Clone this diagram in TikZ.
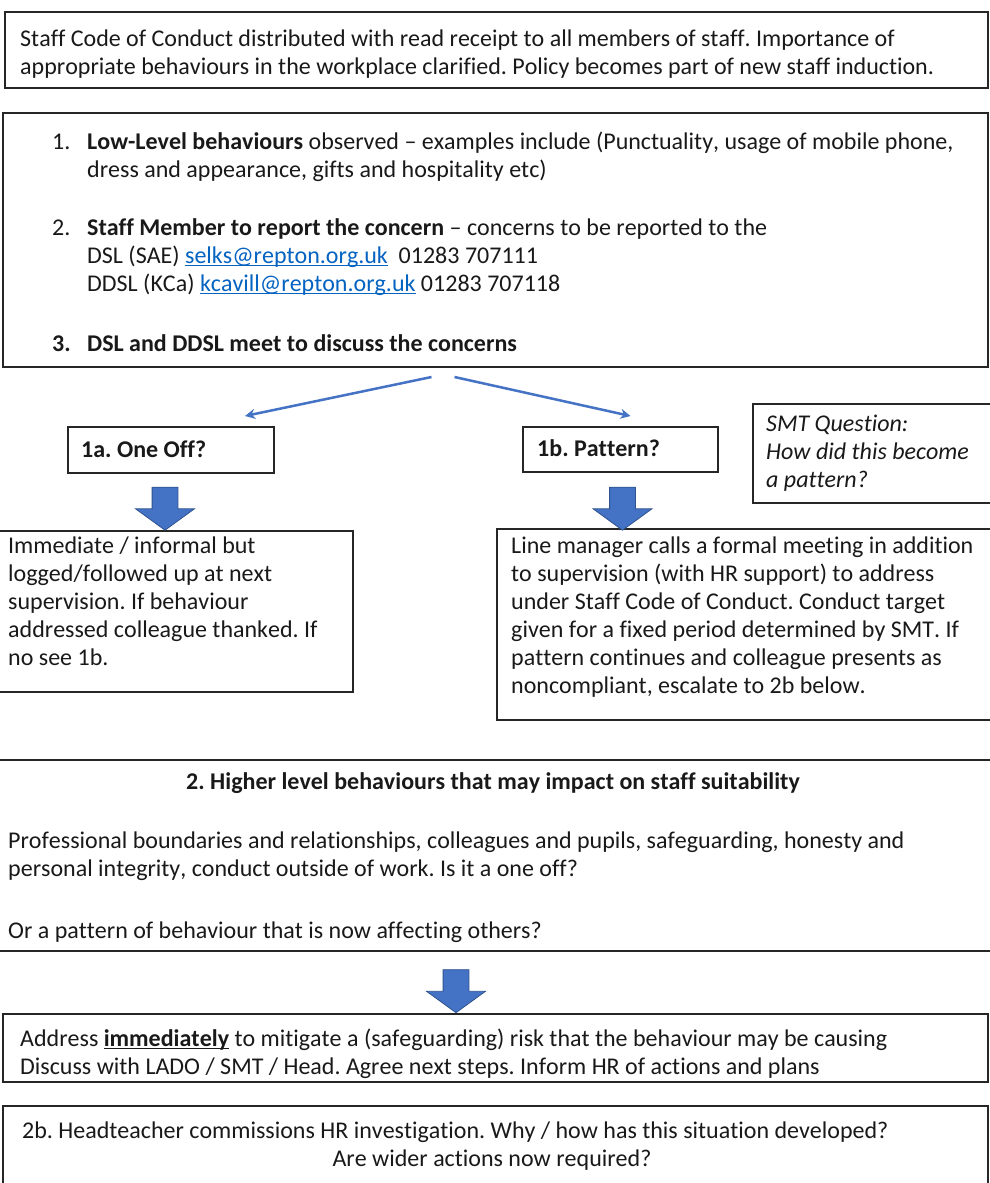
\documentclass[tikz,border=0pt]{standalone}
\usepackage{fontspec}
\setmainfont{Carlito}[Kerning=Off,Ligatures=NoCommon]
\usetikzlibrary{arrows.meta,shapes.arrows,calc}
\definecolor{obl}{HTML}{4472C4}
\definecolor{obd}{HTML}{2F528F}
\definecolor{lnkc}{HTML}{0563C1}
\newcommand\myst{\rule{0pt}{20pt}}
\newsavebox\myulbox
\newcommand\myul[1]{\sbox\myulbox{#1}\rlap{\usebox\myulbox}\rule[-3pt]{\wd\myulbox}{1.3pt}}
\newcommand\mylink[1]{\textcolor{lnkc}{\myul{#1}}}
\begin{document}
\frenchspacing
\begin{tikzpicture}[x=1pt,y=-1pt,
  box/.style={draw=black!85,line width=1.3pt,anchor=north west,inner sep=0pt,outer sep=0pt},
  txt/.style={font=\fontsize{24}{28}\selectfont,inner sep=0pt,anchor=north west,align=left,text=black!90},
  thinarrow/.style={draw=obl,line width=2.5pt,-{Stealth[length=10pt,width=10pt]}},
  fat/.style={single arrow,draw=obd,fill=obl,line width=0.8pt,rotate=-90,
    minimum height=43pt,minimum width=58pt,inner sep=12.5pt,single arrow head extend=16.5pt,
    single arrow tip angle=108,anchor=center}]
\useasboundingbox (0,0) rectangle (990,1183);
\fill[white] (0,0) rectangle (990,1183);

% box 1
\node[box,minimum width=983pt,minimum height=76pt] (b1) at (5,12) {};
\node[txt] (t1) at (20,26) {\myst Staff Code of Conduct distributed with read receipt to all members of staff. Importance of\\
appropriate behaviours in the workplace clarified. Policy becomes part of new staff induction.};

% box 2
\node[box,minimum width=985pt,minimum height=254pt] (b2) at (3,113) {};
\node[txt] (t2) at (52,129) {\myst\makebox[35pt][l]{1.}\textbf{Low-Level behaviours} observed – examples include (Punctuality, usage of mobile phone,\\
\hspace*{35pt}dress and appearance, gifts and hospitality etc)\\[30pt]
\makebox[35pt][l]{2.}\textbf{Staff Member to report the concern} – concerns to be reported to the\\
\hspace*{35pt}DSL (SAE) \mylink{selks@repton.org.uk}\ \ 01283 707111\\
\hspace*{35pt}DDSL (KCa) \mylink{kcavill@repton.org.uk} 01283 707118\\[32pt]
\makebox[35pt][l]{\textbf{3.}}\textbf{DSL and DDSL meet to discuss the concerns}};

% 1a / 1b question boxes
\node[box,minimum width=206pt,minimum height=46pt] (qa) at (68,427) {};
\node[txt,font=\fontsize{24}{28}\selectfont\bfseries] (tqa) at (81,437) {\myst 1a. One Off?};
\node[box,minimum width=195pt,minimum height=45pt] (qb) at (523,427) {};
\node[txt,font=\fontsize{24}{28}\selectfont\bfseries] (tqb) at (537,436) {\myst 1b. Pattern?};

% SMT box
\node[box,minimum width=240pt,minimum height=99pt] (smt) at (753,404) {};
\node[txt,font=\fontsize{24}{28}\selectfont\itshape] (tsmt) at (766,411) {\myst SMT Question:\\How did this become\\a pattern?};

% thin arrows
\draw[thinarrow] ($(b2.south)+(-64,10)$) -- ($(qa.north)+(74,-11)$);
\draw[thinarrow] ($(b2.south)+(-41,10)$) -- ($(qb.north)+(10,-11)$);

% content boxes
\node[box,minimum width=356pt,minimum height=161pt] (ca) at (-3,531) {};
\node[txt] (tca) at (8,533) {\myst Immediate / informal but\\logged/followed up at next\\supervision. If behaviour\\addressed colleague thanked. If\\no see 1b.};
\node[box,minimum width=500pt,minimum height=191pt] (cb) at (497,529) {};
\node[txt] (tcb) at (511,533) {\myst Line manager calls a formal meeting in addition\\to supervision (with HR support) to address\\under Staff Code of Conduct. Conduct target\\given for a fixed period determined by SMT. If\\pattern continues and colleague presents as\\noncompliant, escalate to 2b below.};

% fat arrows
\node[fat] (fa) at ($(qa.south)+(-6,31)$) {};
\node[fat] (fb) at ($(qb.south)+(2,32)$) {};

% section 2
\node[box,minimum width=1000pt,minimum height=191pt] (s2) at (-5,760) {};
\node[txt,anchor=north,font=\fontsize{24}{28}\selectfont\bfseries] (ts2) at (493,769) {\myst 2. Higher level behaviours that may impact on staff suitability};
\node[txt] (ts2b) at (8,828) {\myst Professional boundaries and relationships, colleagues and pupils, safeguarding, honesty and\\personal integrity, conduct outside of work. Is it a one off?\\[34pt]Or a pattern of behaviour that is now affecting others?};

\node[fat] (fc) at ($(s2.south)+(-39,35.5)$) {};

% address box
\node[box,minimum width=985pt,minimum height=68pt] (ad) at (3,1014) {};
\node[txt] (tad) at (20,1026) {\myst Address \myul{\textbf{immediately}} to mitigate a (safeguarding) risk that the behaviour may be causing\\Discuss with LADO / SMT / Head. Agree next steps. Inform HR of actions and plans};

% 2b box
\node[box,minimum width=985pt,minimum height=100pt] (hb) at (3,1106) {};
\node[txt] (thb1) at (22,1118) {\myst 2b. Headteacher commissions HR investigation. Why / how has this situation developed?};
\node[txt,anchor=north] (thb2) at (492,1146) {\myst Are wider actions now required?};
\end{tikzpicture}
\end{document}
